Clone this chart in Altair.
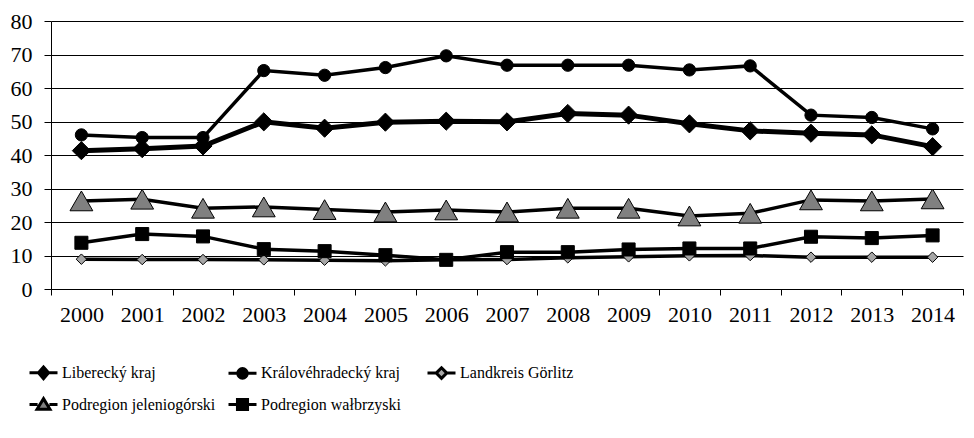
import altair as alt
import pandas as pd

years = [str(y) for y in range(2000, 2015)]
series = ["Liberecký kraj", "Královéhradecký kraj", "Landkreis Görlitz",
          "Podregion jeleniogórski", "Podregion wałbrzyski"]
liberecky = [41.3, 41.9, 42.7, 49.9, 48.0, 49.8, 50.1, 49.9, 52.4, 51.9, 49.3, 47.2, 46.5, 46.0, 42.5]
kralove = [46.0, 45.2, 45.2, 65.2, 63.8, 66.1, 69.6, 66.8, 66.8, 66.8, 65.4, 66.6, 51.9, 51.2, 47.8]
gorlitz = [8.9, 8.8, 8.8, 8.7, 8.6, 8.4, 8.7, 8.8, 9.3, 9.6, 9.9, 10.0, 9.5, 9.5, 9.5]
jelenio = [26.3, 26.8, 24.1, 24.5, 23.7, 23.0, 23.6, 23.0, 24.1, 24.1, 21.8, 22.6, 26.6, 26.3, 26.9]
walbrzy = [13.8, 16.4, 15.7, 11.9, 11.3, 10.1, 8.7, 11.0, 11.0, 11.8, 12.1, 12.1, 15.6, 15.2, 16.0]

values = [liberecky, kralove, gorlitz, jelenio, walbrzy]
rows = []
for s, vals in zip(series, values):
    for y, v in zip(years, vals):
        rows.append({"year": y, "series": s, "value": v})
df = pd.DataFrame(rows)

FONT = "Times New Roman"
fills = ["black", "black", "#a6a6a6", "#808080", "black"]
shapes = ["diamond", "circle", "diamond", "triangle-up", "square"]
sizes = [330, 150, 110, 520, 170]
widths = [5, 3.5, 3.5, 3.5, 3.5]

legend_paths = [
    "M-1,0H-0.36M0.36,0H1M0,-0.42L0.36,0L0,0.42L-0.36,0Z",
    "M-1,0H-0.34M0.34,0H1M-0.34,0A0.34,0.34 0 1,0 0.34,0A0.34,0.34 0 1,0 -0.34,0Z",
    "M-1,0H-0.38M0.38,0H1M0,-0.38L0.38,0L0,0.38L-0.38,0Z",
    "M-1,0H-0.42M0.42,0H1M0,-0.42L0.46,0.34L-0.46,0.34Z",
    "M-1,0H-0.36M0.36,0H1M-0.36,-0.36H0.36V0.36H-0.36Z",
]

x_enc = alt.X("year:N", sort=years,
              scale=alt.Scale(type="band", paddingInner=0, paddingOuter=0),
              axis=alt.Axis(title=None, labelAngle=0, tickBand="extent",
                            labelFont=FONT, labelFontSize=22, labelColor="black",
                            labelPadding=9, tickSize=6, tickColor="black",
                            domainColor="black", grid=False))
y_enc = alt.Y("value:Q",
              scale=alt.Scale(domain=[0, 80], nice=False),
              axis=alt.Axis(title=None, values=list(range(0, 81, 10)),
                            labelFont=FONT, labelFontSize=22, labelColor="black",
                            labelPadding=12, tickSize=7, tickColor="black",
                            domainColor="black", gridColor="black",
                            gridOpacity=1, gridWidth=1))

base = alt.Chart(df)

layers = []
for s, shp, fl, sz, w in zip(series, shapes, fills, sizes, widths):
    sub = base.transform_filter(alt.datum.series == s)
    layers.append(sub.mark_line(color="black", strokeWidth=w).encode(x=x_enc, y=y_enc))
    layers.append(sub.mark_point(filled=True, shape=shp, fill=fl, size=sz,
                                 stroke="black", strokeWidth=1, opacity=1)
                  .encode(x=x_enc, y=y_enc))

leg = alt.Legend(title=None)
legend_layer = base.transform_filter("false").mark_point(
    filled=True, opacity=1
).encode(
    x=x_enc, y=y_enc,
    shape=alt.Shape("series:N", scale=alt.Scale(domain=series, range=legend_paths), legend=leg),
    fill=alt.Fill("series:N", scale=alt.Scale(domain=series, range=fills), legend=leg),
    stroke=alt.Stroke("series:N", scale=alt.Scale(domain=series, range=["black"] * 5), legend=leg),
    strokeWidth=alt.StrokeWidth("series:N", scale=alt.Scale(domain=series, range=[3, 3]), legend=leg),
    size=alt.Size("series:N", scale=alt.Scale(domain=series, range=[784, 784]), legend=leg),
)
layers.append(legend_layer)

chart = alt.layer(*layers).properties(
    width=912, height=268,
    padding={"left": 2, "top": 2, "right": 2, "bottom": 2},
).configure_view(stroke=None).configure_axis(
    labelFont=FONT, labelFontSize=22, labelColor="black",
).configure_legend(
    orient="none", legendX=-23, legendY=336, columns=3, direction="horizontal",
    gridAlign="all", columnPadding=6, rowPadding=4,
    symbolOpacity=1,
    labelFont=FONT, labelFontSize=16, labelColor="black", labelOffset=3,
    labelLimit=400,
)

chart.save("out.html", embed_options={"renderer": "svg", "actions": False})
